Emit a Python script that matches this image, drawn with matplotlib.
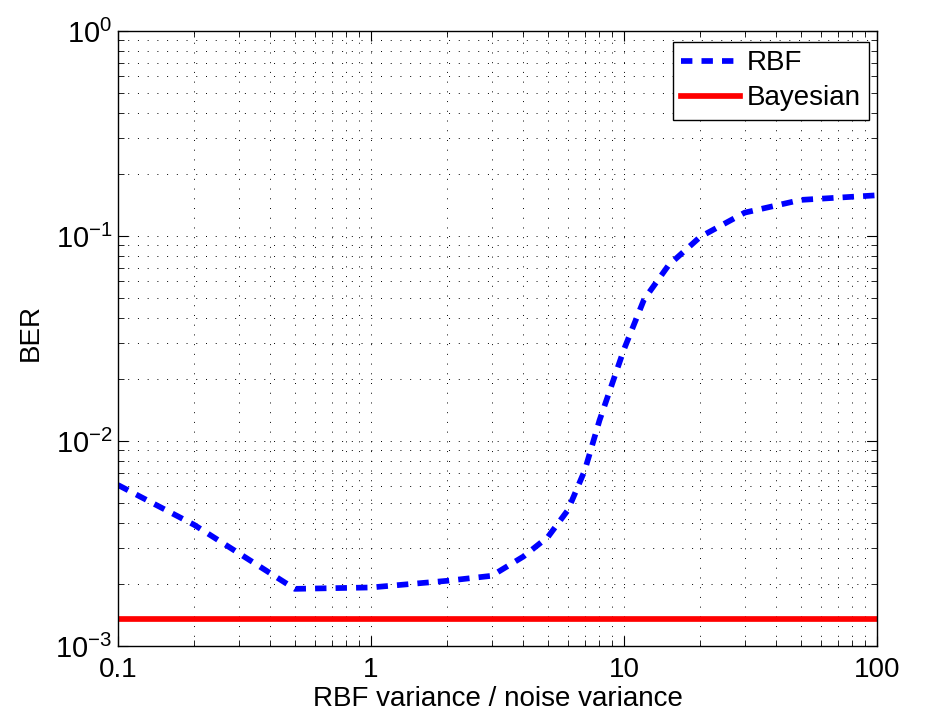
import matplotlib as mpl
mpl.use('Agg')
import numpy as np
import matplotlib.pyplot as plt
import matplotlib.ticker as mticker

## データ: RBF variance / noise variance vs BER
RATIO = [0.1, 0.2, 0.5, 1, 2, 3, 4, 5, 6, 7, 8, 10, 12, 15, 20, 30, 50, 100]
BER_RBF = [6.1e-3, 3.9e-3, 1.9e-3, 1.93e-3, 2.08e-3, 2.2e-3, 2.73e-3, 3.4e-3,
           4.6e-3, 7.2e-3, 1.26e-2, 2.8e-2, 4.9e-2, 7.2e-2, 9.9e-2, 0.13, 0.15, 0.158]
BER_BAYES = [1.35e-3, 1.35e-3]
RATIO_BAYES = [0.1, 100]

XTICKS = [0.1, 1, 10, 100]
XTICKLABELS = ['0.1', '1', '10', '100']

plt.rcParams['font.family'] = ['Liberation Sans', 'DejaVu Sans']
plt.rcParams['mathtext.fontset'] = 'custom'
plt.rcParams['mathtext.rm'] = 'Liberation Sans'
plt.rcParams['mathtext.it'] = 'Liberation Sans'
plt.rcParams['mathtext.default'] = 'regular'

FS = 20

fig = plt.figure(figsize=(9.25, 7.18), dpi=100)
ax = fig.add_axes([118/925, 1-646/718, (877-118)/925, (646-31)/718])

ax.plot(RATIO, BER_RBF, color='#0000ff', lw=4.1, linestyle=(0, (2.0, 1.6)),
        label='RBF')
ax.plot(RATIO_BAYES, BER_BAYES, color='#ff0000', lw=4.1, label='Bayesian')

ax.set_xscale('log')
ax.set_yscale('log')
ax.set_xlim(0.1, 100)
ax.set_ylim(1e-3, 1)

ax.xaxis.set_major_locator(mticker.FixedLocator(XTICKS))
ax.xaxis.set_major_formatter(mticker.FixedFormatter(XTICKLABELS))
ax.xaxis.set_minor_locator(mticker.LogLocator(base=10, subs=np.arange(2, 10)))
ax.xaxis.set_minor_formatter(mticker.NullFormatter())
ax.yaxis.set_major_locator(mticker.LogLocator(base=10, numticks=10))
ax.yaxis.set_minor_locator(mticker.LogLocator(base=10, subs=np.arange(2, 10), numticks=10))
ax.yaxis.set_minor_formatter(mticker.NullFormatter())

ax.tick_params(which='both', direction='in', top=True, right=True, labelsize=FS)
ax.tick_params(which='major', length=7, width=0.8)
ax.tick_params(axis='x', which='major', pad=8)
ax.tick_params(axis='y', which='major', pad=4, labelsize=FS + 1)
ax.tick_params(which='minor', length=4, width=0.6)

ax.grid(True, which='both', color='k', linestyle=(0, (1, 9)), linewidth=0.7)
for s in ax.spines.values():
    s.set_linewidth(1.0)

ax.set_xlabel('RBF variance / noise variance', fontsize=FS, labelpad=2)
ax.set_ylabel('BER', fontsize=FS)
ax.yaxis.set_label_coords(-0.0975, 0.51)

leg = ax.legend(loc='upper right', bbox_to_anchor=(0.9895, 0.982), fontsize=FS,
                frameon=True, fancybox=False, edgecolor='k', framealpha=1,
                handlelength=2.1, handletextpad=0.25, borderaxespad=0,
                borderpad=0.3, labelspacing=0.32)
leg.get_frame().set_linewidth(1.0)

plt.savefig('out.png', dpi=100)
plt.close()
